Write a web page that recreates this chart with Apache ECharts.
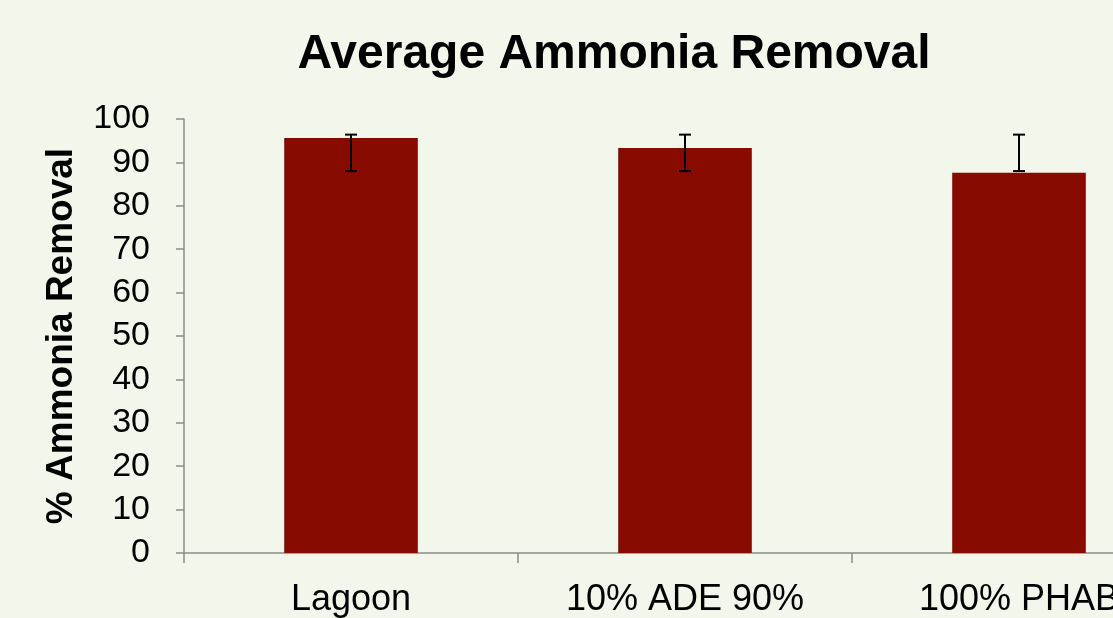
<!DOCTYPE html>
<html>
<head>
<meta charset="utf-8">
<script src="https://cdn.jsdelivr.net/npm/echarts@6/dist/echarts.min.js"></script>
<style>
  html, body { margin: 0; padding: 0; overflow: hidden; background: #f3f6ea; }
  #main { width: 1220px; height: 640px; }
</style>
</head>
<body>
<div id="main"></div>
<script>
// categories and values
const categories = ['Lagoon', '10% ADE 90%', '100% PHAB'];
const removal = [95.6, 93.3, 87.6];
const errLow = [88.0, 88.0, 88.0];
const errHigh = [96.4, 96.4, 96.4];
const yTicks = [0, 10, 20, 30, 40, 50, 60, 70, 80, 90, 100];

let myChart = echarts.init(document.getElementById('main'));

const axisColor = '#8c8c8c';
const font = '"Liberation Sans", Arial, sans-serif';

let option = {
    backgroundColor: '#f3f6ea',
    animation: false,
    title: {
        text: 'Average Ammonia Removal',
        left: 609,
        textAlign: 'center',
        top: 26,
        textStyle: { fontFamily: font, fontSize: 48, fontWeight: 'bold', color: '#000' }
    },
    grid: { left: 184, top: 119, width: 1002, height: 434 },
    xAxis: {
        type: 'category',
        data: categories,
        axisLine: { lineStyle: { color: axisColor, width: 1.5 } },
        axisTick: { show: true, length: 10, lineStyle: { color: axisColor, width: 1.5 } },
        axisLabel: { margin: 29, fontFamily: font, fontSize: 36, color: '#000' }
    },
    yAxis: {
        type: 'value',
        min: yTicks[0],
        max: yTicks[yTicks.length - 1],
        interval: 10,
        name: '% Ammonia Removal',
        nameLocation: 'middle',
        nameGap: 104,
        nameTextStyle: { fontFamily: font, fontSize: 37, fontWeight: 'bold', color: '#000' },
        axisLine: { show: true, lineStyle: { color: axisColor, width: 1.5 } },
        axisTick: { show: true, length: 8, lineStyle: { color: axisColor, width: 1.5 } },
        splitLine: { show: false },
        axisLabel: { margin: 34, fontFamily: font, fontSize: 34, color: '#000' }
    },
    series: [
        {
            type: 'bar',
            data: removal,
            barWidth: '40%',
            itemStyle: { color: '#870b00' }
        },
        {
            type: 'custom',
            data: categories.map((c, i) => [i, errLow[i], errHigh[i]]),
            renderItem: function (params, api) {
                const lo = api.coord([api.value(0), api.value(1)]);
                const hi = api.coord([api.value(0), api.value(2)]);
                const cap = 6;
                const style = { stroke: '#000', lineWidth: 2 };
                return {
                    type: 'group',
                    children: [
                        { type: 'line', shape: { x1: hi[0], y1: hi[1], x2: lo[0], y2: lo[1] }, style: style },
                        { type: 'line', shape: { x1: hi[0] - cap, y1: hi[1], x2: hi[0] + cap, y2: hi[1] }, style: style },
                        { type: 'line', shape: { x1: lo[0] - cap, y1: lo[1], x2: lo[0] + cap, y2: lo[1] }, style: style }
                    ]
                };
            },
            z: 10
        }
    ]
};
myChart.setOption(option);
</script>
</body>
</html>
